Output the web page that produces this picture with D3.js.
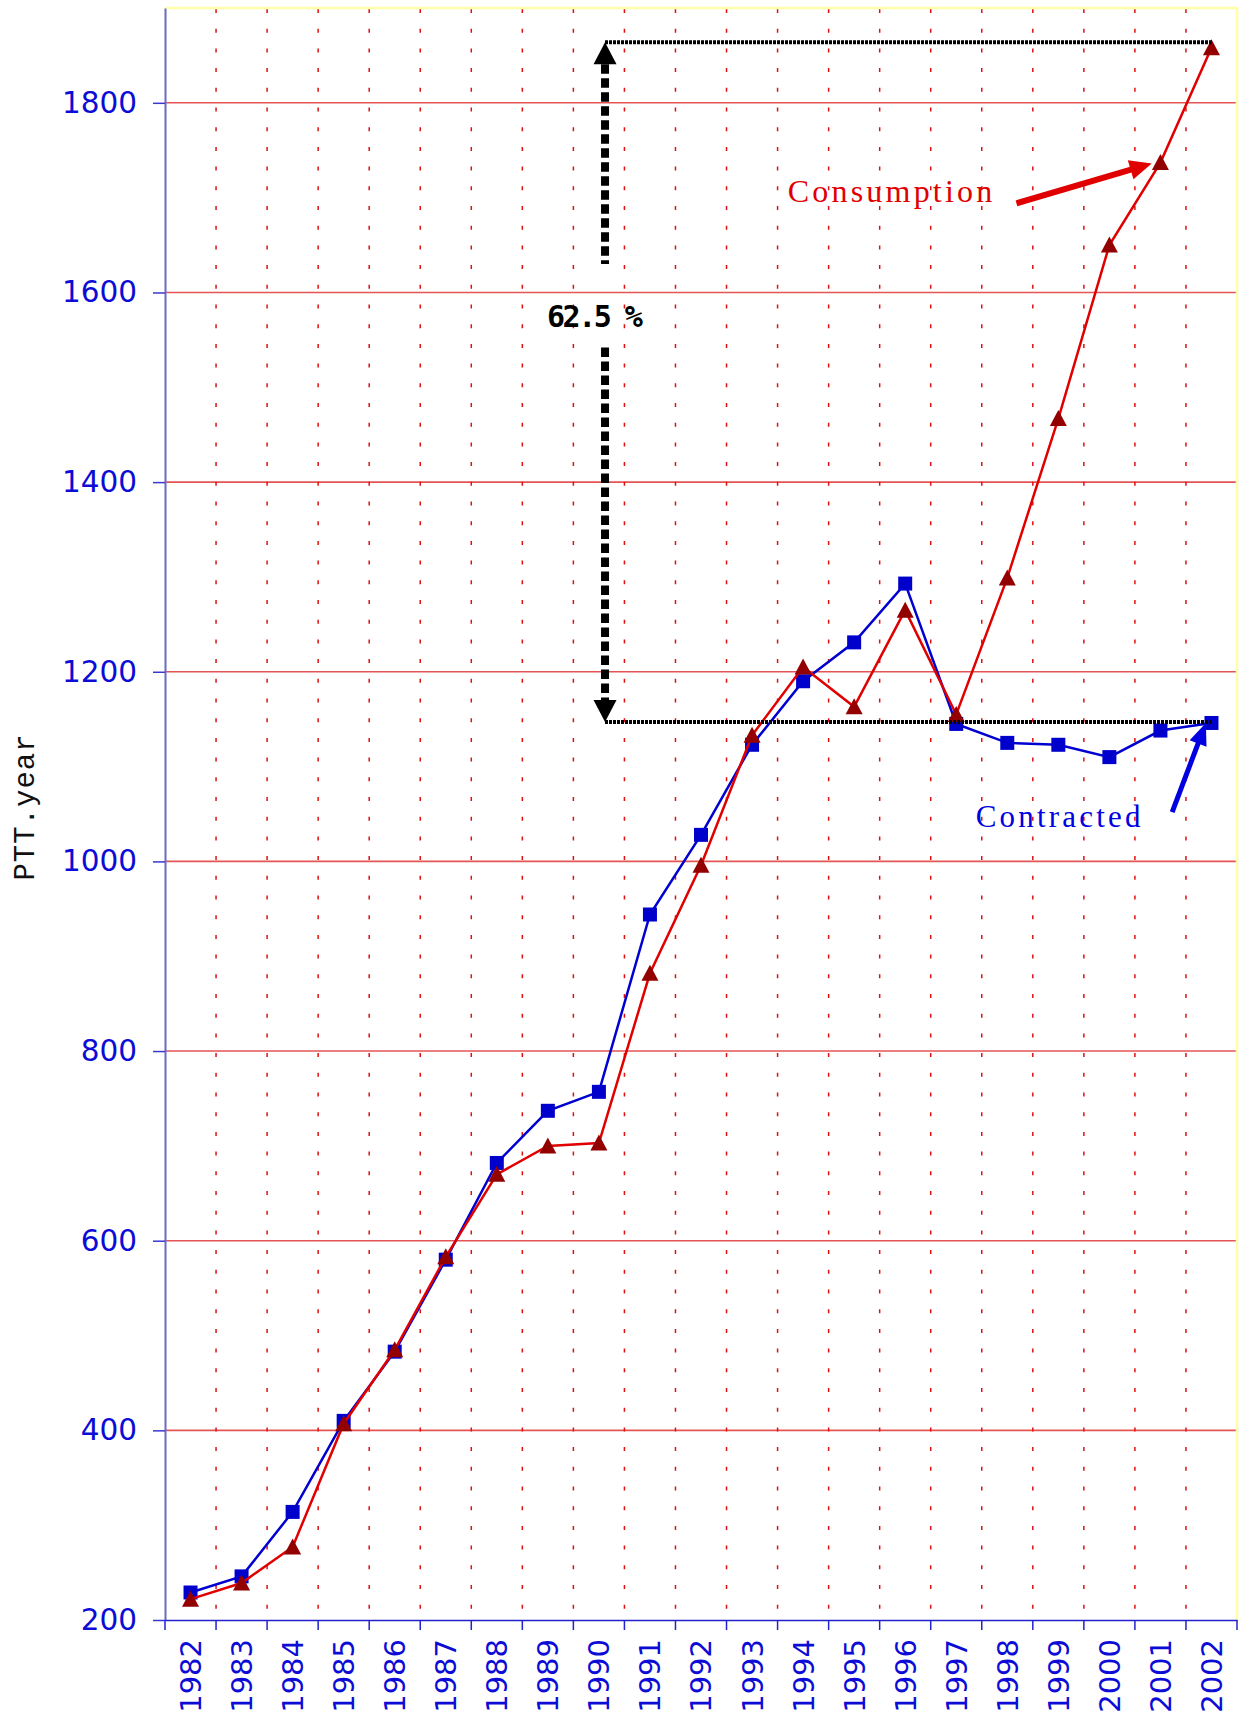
<!DOCTYPE html>
<html><head><meta charset="utf-8">
<script src="https://cdn.jsdelivr.net/npm/d3@7"></script>
<style>html,body{margin:0;padding:0;background:#fff;}</style>
</head><body>
<script>
const years = ["1982","1983","1984","1985","1986","1987","1988","1989","1990","1991","1992","1993","1994","1995","1996","1997","1998","1999","2000","2001","2002"];
const contracted = [229,246,314,410,483,580,682,737,757,944,1028,1123,1190,1231,1293,1145,1125,1123,1110,1138,1146];
const consumption = [222,239,277,407,485,583,670,700,703,882,996,1133,1205,1163,1265,1155,1299,1467,1650,1737,1858];
const yTicks = [200,400,600,800,1000,1200,1400,1600,1800];
const yLabel = "PTT.year";
const pctLabel = "62.5 %";
const seriesNames = ["Consumption","Contracted"];
// annotation anchors in data units (band index, value)
const bracketTop = 1864, bracketBottom = 1147, gapTopV = 1630, gapBottomV = 1542, pctV = 1564;

const W = 1249, H = 1716;
const svg = d3.select("body").append("svg").attr("width", W).attr("height", H);
const x = d3.scaleBand().domain(years).range([165, 1237]).paddingInner(0).paddingOuter(0);
const y = d3.scaleLinear().domain([200, 1900]).range([1620, 8]);
const xi = i => x.range()[0] + i * x.step();
const xc = d => x(d) + x.bandwidth() / 2;

// horizontal gridlines
svg.append("g").selectAll("line").data(yTicks.filter(v => v > 200)).join("line")
  .attr("x1", 166).attr("x2", 1237).attr("y1", d => y(d)).attr("y2", d => y(d))
  .attr("stroke", "#e45454").attr("stroke-width", 1.6);
// vertical dotted gridlines
svg.append("g").selectAll("line").data(d3.range(1, years.length)).join("line")
  .attr("x1", d => xi(d)).attr("x2", d => xi(d)).attr("y1", 9).attr("y2", 1619)
  .attr("stroke", "#e01010").attr("stroke-width", 1.5).attr("stroke-dasharray", "4 15.7");
// top/right border
svg.append("path").attr("d", `M166,${y(1900)}H1237V1620`).attr("fill", "none")
  .attr("stroke", "#ffffa8").attr("stroke-width", 2.5);

// y axis
const gy = svg.append("g").attr("transform", "translate(165,0)")
  .call(d3.axisLeft(y).tickValues(yTicks).tickSize(12).tickPadding(16).tickSizeOuter(0).tickFormat(d3.format("d")));
gy.select(".domain").attr("stroke", "#6a6ac4").attr("stroke-width", 2);
gy.selectAll(".tick line").attr("stroke", "#3838d0").attr("stroke-width", 1.5);
gy.selectAll(".tick text").attr("fill", "#0c0cd6").attr("font-family", "DejaVu Sans").attr("font-size", 29.5);

// x axis
const gx = svg.append("g").attr("transform", "translate(0,1620)")
  .call(d3.axisBottom(x).tickSize(0).tickSizeOuter(0));
gx.select(".domain").attr("stroke", "#2222cc").attr("stroke-width", 1.6);
gx.selectAll(".tick text").attr("fill", "#0c0cd6").attr("font-family", "DejaVu Sans").attr("font-size", 29)
  .attr("transform", "rotate(-90)").attr("x", -19).attr("y", 0).attr("dy", "0.36em").attr("text-anchor", "end");
gx.append("g").selectAll("line").data(d3.range(0, years.length + 1)).join("line")
  .attr("x1", d => xi(d)).attr("x2", d => xi(d)).attr("y1", 0).attr("y2", 10)
  .attr("stroke", "#2222cc").attr("stroke-width", 1.5);

// y label
svg.append("text").attr("transform", "translate(24,807) rotate(-90)")
  .attr("text-anchor", "middle").attr("dy", "0.35em")
  .attr("font-family", "Liberation Mono").attr("font-size", 29).attr("letter-spacing", 1)
  .attr("fill", "#111").text(yLabel);

// series
const line = d3.line().x((d, i) => xc(years[i])).y(d => y(d));
svg.append("path").datum(contracted).attr("d", line).attr("fill", "none").attr("stroke", "#0000d0").attr("stroke-width", 2.5);
svg.append("g").selectAll("rect").data(contracted).join("rect")
  .attr("x", (d, i) => xc(years[i]) - 7).attr("y", d => y(d) - 7).attr("width", 14).attr("height", 14)
  .attr("fill", "#0000cc");
svg.append("path").datum(consumption).attr("d", line).attr("fill", "none").attr("stroke", "#e00000").attr("stroke-width", 2.5);
svg.append("g").selectAll("path").data(consumption).join("path")
  .attr("d", (d, i) => { const cx = xc(years[i]), cy = y(d); return `M${cx},${cy-8.5}L${cx+8.5},${cy+7.5}L${cx-8.5},${cy+7.5}Z`; })
  .attr("fill", "#920000");

// bracket annotation
const ax = xi(8.62), xr = xc(years[years.length - 1]);
const ann = svg.append("g");
ann.append("line").attr("x1", ax).attr("x2", xr).attr("y1", y(bracketTop)).attr("y2", y(bracketTop))
  .attr("stroke", "#000").attr("stroke-width", 4).attr("stroke-dasharray", "3 1");
ann.append("line").attr("x1", ax).attr("x2", xr).attr("y1", y(bracketBottom)).attr("y2", y(bracketBottom))
  .attr("stroke", "#000").attr("stroke-width", 4).attr("stroke-dasharray", "3 1");
const tT = y(bracketTop), tB = y(bracketBottom);
ann.append("path").attr("d", `M${ax},${tT}L${ax+11.5},${tT+22}L${ax-11.5},${tT+22}Z`).attr("fill", "#000");
ann.append("path").attr("d", `M${ax},${tB}L${ax+11.5},${tB-22}L${ax-11.5},${tB-22}Z`).attr("fill", "#000");
ann.append("line").attr("x1", ax).attr("x2", ax).attr("y1", tT + 22).attr("y2", y(gapTopV))
  .attr("stroke", "#000").attr("stroke-width", 8).attr("stroke-dasharray", "9.5 4.5");
ann.append("line").attr("x1", ax).attr("x2", ax).attr("y1", y(gapBottomV)).attr("y2", tB - 22)
  .attr("stroke", "#000").attr("stroke-width", 8).attr("stroke-dasharray", "9.5 4.5");
ann.append("text").attr("x", ax - 58).attr("y", y(pctV))
  .attr("font-family", "DejaVu Sans Mono").attr("font-weight", "bold").attr("font-size", 30)
  .attr("letter-spacing", -2.5).attr("fill", "#000").text(pctLabel);

// series labels + arrows
function arrow(x1, y1, x2, y2, color, w, hl, hw) {
  const dx = x2 - x1, dy = y2 - y1, L = Math.hypot(dx, dy), ux = dx / L, uy = dy / L;
  const bx = x2 - ux * hl, by = y2 - uy * hl;
  svg.append("line").attr("x1", x1).attr("y1", y1).attr("x2", bx + ux * 2).attr("y2", by + uy * 2)
    .attr("stroke", color).attr("stroke-width", w);
  svg.append("path").attr("d", `M${x2},${y2}L${bx - uy * hw},${by + ux * hw}L${bx + uy * hw},${by - ux * hw}Z`).attr("fill", color);
}
svg.append("text").attr("x", xi(12.2)).attr("y", y(1695)).attr("font-family", "Liberation Serif")
  .attr("font-size", 32).attr("letter-spacing", 3.2).attr("fill", "#e00000").text(seriesNames[0]);
arrow(xi(16.68), y(1694), xi(19.33), y(1736), "#e00000", 6, 22, 10);
svg.append("text").attr("x", xi(15.88)).attr("y", y(1036)).attr("font-family", "Liberation Serif")
  .attr("font-size", 31).attr("letter-spacing", 3.2).attr("fill", "#0000e0").text(seriesNames[1]);
arrow(xi(19.73), y(1052), xi(20.39), y(1146), "#0000e0", 5, 22, 9);
</script>
</body></html>
